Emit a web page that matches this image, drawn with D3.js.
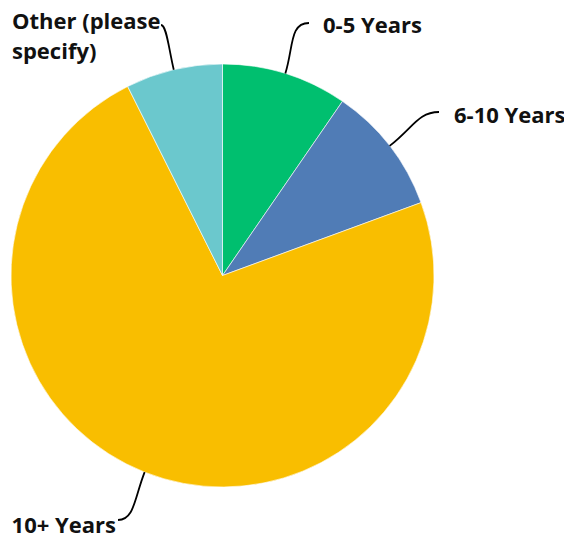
<!DOCTYPE html>
<html><head><meta charset="utf-8">
<script src="https://cdn.jsdelivr.net/npm/d3@7"></script>
<style>body{margin:0;background:#fff}svg{display:block}</style>
</head><body>
<script>
const categories = ["0-5 Years", "6-10 Years", "10+ Years", "Other (please specify)"];
const values = [9.6, 9.8, 73.2, 7.4];
const colors = ["#00BF6F", "#507CB6", "#F9BE00", "#6BC8CD"];

// label layout (positions only)
const labelLayout = [
  {end:[309,23], side:"right", lines:["0-5 Years"], x:323, y:33, hook:0.35},
  {end:[439,112], side:"right", lines:["6-10 Years"], x:454, y:123, hook:0.35},
  {end:[118,520], side:"left", lines:["10+ Years"], x:116, y:533, hook:0.3},
  {end:[161,25], side:"left", lines:["Other (please","specify)"], x:12, y:29, hook:0.12}
];

const W=564,H=540, cx=222.5, cy=275.5, R=211.5;
const svg=d3.select("body").append("svg").attr("width",W).attr("height",H);
const g=svg.append("g").attr("transform",`translate(${cx},${cy})`);
const pie=d3.pie().sort(null).value(d=>d)(values);
const arc=d3.arc().innerRadius(0).outerRadius(R);
g.selectAll("path.slice").data(pie).join("path").attr("class","slice")
  .attr("d",arc).attr("fill",(d,i)=>colors[i]).attr("stroke","#fff").attr("stroke-width",0.6);

pie.forEach((d,i)=>{
  const a=(d.startAngle+d.endAngle)/2;
  const sx=cx+R*Math.sin(a), sy=cy-R*Math.cos(a);
  const L=labelLayout[i];
  const [ex,ey]=L.end;
  const dist=Math.hypot(ex-sx,ey-sy);
  const c1x=sx+Math.sin(a)*dist*0.5, c1y=sy-Math.cos(a)*dist*0.5;
  const h=dist*L.hook*(L.side==="right"?-1:1);
  const c2x=ex+h, c2y=ey;
  svg.append("path").attr("d",`M${sx},${sy}C${c1x},${c1y} ${c2x},${c2y} ${ex},${ey}`)
    .attr("fill","none").attr("stroke","#000").attr("stroke-width",1.8);
  const t=svg.append("text").attr("x",L.x).attr("y",L.y)
    .attr("font-family","'Open Sans', sans-serif").attr("font-weight","bold").attr("font-size",22)
    .attr("fill","#111").attr("text-anchor",L.side==="right"||L.lines.length>1?"start":"end");
  L.lines.forEach((ln,k)=>t.append("tspan").attr("x",L.x).attr("y",L.y+k*30).text(ln));
});
</script>
</body></html>
